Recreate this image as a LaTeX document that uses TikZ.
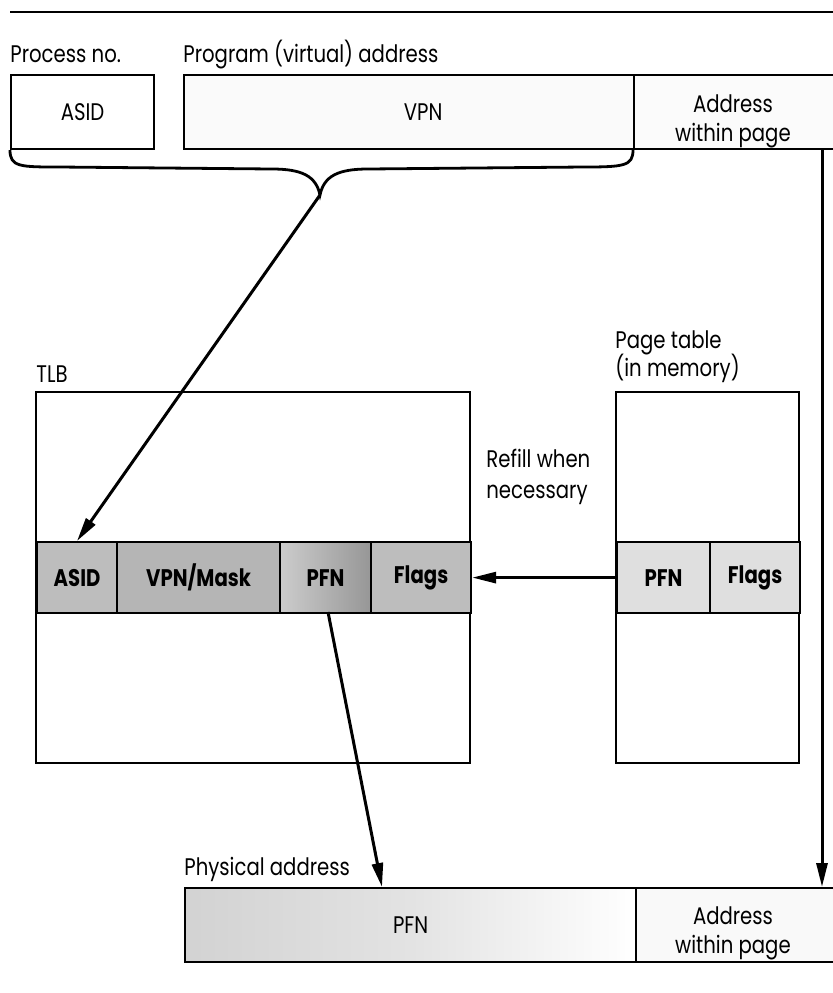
\documentclass[tikz,border=0pt]{standalone}
\usepackage{fontspec}
\setmainfont{Poppins}[FakeStretch=0.82]
\usetikzlibrary{arrows.meta}
\begin{document}
\begin{tikzpicture}[x=0.5pt,y=-0.5pt,
  font=\fontsize{12}{13.5}\selectfont,
  box/.style={draw=black,line width=1.1pt,inner sep=0pt,minimum height=37pt},
  cell/.style={draw=black,line width=1.1pt,inner sep=0pt,minimum height=35.5pt,
    font=\fontsize{12}{13.5}\selectfont\bfseries},
  lbl/.style={anchor=base west,inner sep=0pt},
  arr/.style={line width=1.5pt,-{Triangle[length=12pt,width=5.5pt]}},
  twoline/.style={align=center,font=\fontsize{12}{14.5}\selectfont}]
\useasboundingbox (0,0) rectangle (833,993);
\clip (0,0) rectangle (833,993);
% top rule
\draw[line width=1.2pt] (10,12) -- (833,12);
% labels
\node[lbl] (lproc) at (10,62) {Process no.};
\node[lbl] (lprog) at (183,62) {Program (virtual) address};
% virtual address boxes
\node[box,minimum width=71.5pt,anchor=north west] (asid) at (10,74) {ASID};
\node[box,minimum width=225pt,anchor=north west,fill=gray!4] (vpn) at (183,74) {\hspace*{14pt}VPN};
\node[box,minimum width=110pt,anchor=north west,fill=gray!3] (off) at (633,74) {};
\node[twoline] (offt) at (733,121) {Address\\within page};
% brace
\draw[line width=1.4pt] (10,150) .. controls (10,167) and (20,167) .. (60,167)
  -- (272,169) .. controls (302,169) and (316,176) .. (320,195)
  coordinate (bracetip)
  .. controls (324,176) and (338,169) .. (368,169)
  -- (583,167) .. controls (624,167) and (633,166) .. (633,150);
\draw[arr] (bracetip) -- (77,541);
% TLB
\node[lbl] (ltlb) at (36,382) {TLB};
\draw[line width=1.1pt] (36,392) rectangle (470,763);
\node[cell,anchor=north west,minimum width=40pt,fill=gray!52] (tasid) at (36,541) {ASID};
\node[cell,anchor=north west,minimum width=81.5pt,fill=gray!58] (tvpn) at (116,541) {VPN/Mask};
\node[cell,anchor=north west,minimum width=45.5pt,left color=gray!40,right color=gray!82] (tpfn) at (279,541) {PFN};
\node[cell,anchor=north west,minimum width=50pt,fill=gray!52] (tflags) at (370,541) {Flags};
% Page table
\node[lbl] (lpt1) at (615,348) {Page table};
\node[lbl] (lpt2) at (615,376) {(in memory)};
\draw[line width=1.1pt] (616,392) rectangle (799,763);
\node[cell,anchor=north west,minimum width=46.5pt,fill=gray!25] (ppfn) at (616,541) {PFN};
\node[cell,anchor=north west,minimum width=45pt,fill=gray!25] (pflags) at (709,541) {Flags};
\node[lbl] (lref1) at (486,467) {Refill when};
\node[lbl] (lref2) at (486,498) {necessary};
\draw[arr] (ppfn.west) -- (tflags.east);
% physical address
\node[lbl] (lphys) at (184,875) {Physical address};
\node[box,anchor=north west,minimum width=225.5pt,left color=gray!35,right color=white,middle color=gray!22] (ppfnbox) at (184,887) {PFN};
\node[box,anchor=north west,minimum width=110pt,fill=gray!5] (poff) at (635,887) {};
\node[twoline] (pofft) at (733,933) {Address\\within page};
% connectors
\coordinate (pfnsrc) at (328,612);
\coordinate (pfndst) at (382,887);
\draw[arr] (pfnsrc) -- (pfndst);
\coordinate (offsrc) at (822,148);
\coordinate (offdst) at (822,887);
\draw[arr] (offsrc) -- (offdst);
\end{tikzpicture}
\end{document}
